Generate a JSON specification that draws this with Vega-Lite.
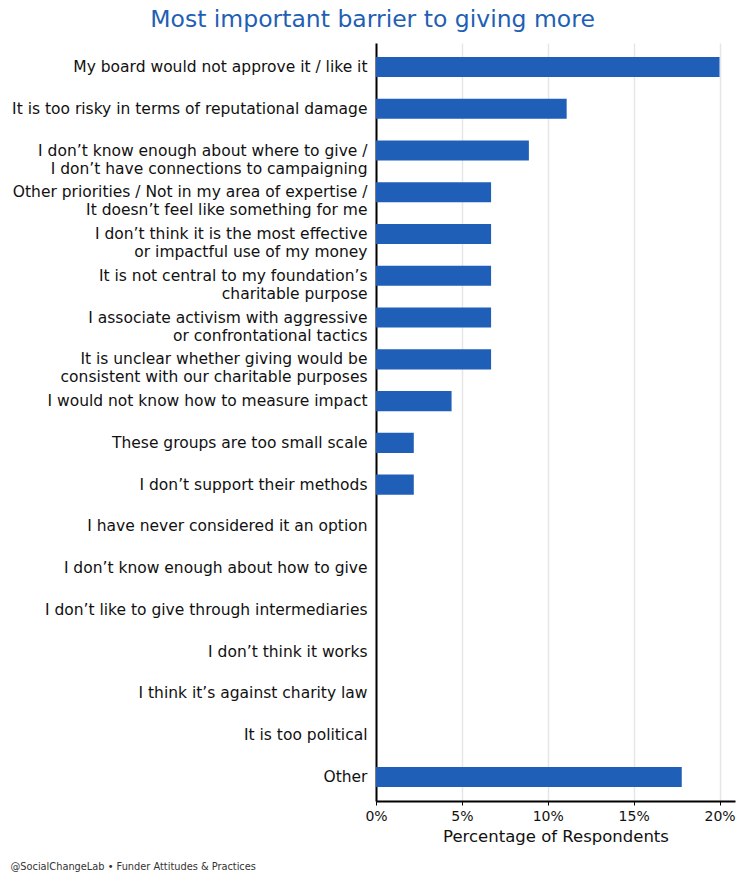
{
  "$schema": "https://vega.github.io/schema/vega-lite/v6.json",
  "width": 359,
  "height": 758,
  "autosize": {"type": "none"},
  "padding": {"left": 376, "top": 43, "right": 11, "bottom": 83},
  "background": "white",
  "title": {
    "text": "Most important barrier to giving more",
    "anchor": "middle",
    "frame": "bounds",
    "font": "DejaVu Sans",
    "fontSize": 23.5,
    "fontWeight": "normal",
    "color": "#1f5fb5",
    "offset": 12
  },
  "data": {
    "values": [
      {"order": 1, "barrier": "My board would not approve it / like it", "pct": 20.0},
      {"order": 2, "barrier": "It is too risky in terms of reputational damage", "pct": 11.1},
      {"order": 3, "barrier": "I don’t know enough about where to give /|I don’t have connections to campaigning", "pct": 8.9},
      {"order": 4, "barrier": "Other priorities / Not in my area of expertise /|It doesn’t feel like something for me", "pct": 6.7},
      {"order": 5, "barrier": "I don’t think it is the most effective|or impactful use of my money", "pct": 6.7},
      {"order": 6, "barrier": "It is not central to my foundation’s|charitable purpose", "pct": 6.7},
      {"order": 7, "barrier": "I associate activism with aggressive|or confrontational tactics", "pct": 6.7},
      {"order": 8, "barrier": "It is unclear whether giving would be|consistent with our charitable purposes", "pct": 6.7},
      {"order": 9, "barrier": "I would not know how to measure impact", "pct": 4.4},
      {"order": 10, "barrier": "These groups are too small scale", "pct": 2.2},
      {"order": 11, "barrier": "I don’t support their methods", "pct": 2.2},
      {"order": 12, "barrier": "I have never considered it an option", "pct": 0},
      {"order": 13, "barrier": "I don’t know enough about how to give", "pct": 0},
      {"order": 14, "barrier": "I don’t like to give through intermediaries", "pct": 0},
      {"order": 15, "barrier": "I don’t think it works", "pct": 0},
      {"order": 16, "barrier": "I think it’s against charity law", "pct": 0},
      {"order": 17, "barrier": "It is too political", "pct": 0},
      {"order": 18, "barrier": "Other", "pct": 17.8}
    ]
  },
  "mark": {"type": "bar", "color": "#1f5fb8"},
  "encoding": {
    "y": {
      "field": "barrier",
      "type": "nominal",
      "sort": {"field": "order", "order": "ascending"},
      "scale": {"paddingInner": 0.52, "paddingOuter": 0.335},
      "axis": {
        "title": "@SocialChangeLab • Funder Attitudes & Practices",
        "titleAngle": 0,
        "titleAlign": "left",
        "titleBaseline": "middle",
        "titleX": -366,
        "titleY": 823,
        "titleFont": "DejaVu Sans",
        "titleFontSize": 9.8,
        "titleFontWeight": "normal",
        "titleColor": "#333333",
        "labelExpr": "split(datum.label, '|')",
        "labelFont": "DejaVu Sans",
        "labelFontSize": 15.5,
        "labelColor": "#111111",
        "labelLineHeight": 18,
        "labelPadding": 9,
        "labelLimit": 400,
        "ticks": false,
        "domainColor": "#000000",
        "domainWidth": 2,
        "grid": false
      }
    },
    "x": {
      "field": "pct",
      "type": "quantitative",
      "scale": {"domain": [0, 20.9], "nice": false, "zero": true},
      "axis": {
        "title": "Percentage of Respondents",
        "titleFont": "DejaVu Sans",
        "titleFontSize": 16.5,
        "titleFontWeight": "normal",
        "titleColor": "#111111",
        "titlePadding": 5,
        "values": [0, 5, 10, 15, 20],
        "labelExpr": "datum.value + '%'",
        "labelFlush": false,
        "labelFont": "DejaVu Sans",
        "labelFontSize": 14,
        "labelColor": "#111111",
        "labelPadding": 4,
        "tickColor": "#000000",
        "tickSize": 4,
        "domainColor": "#000000",
        "domainWidth": 2,
        "grid": true,
        "gridColor": "#e6e6e6",
        "gridWidth": 1.5
      }
    }
  },
  "config": {"view": {"stroke": null}}
}
